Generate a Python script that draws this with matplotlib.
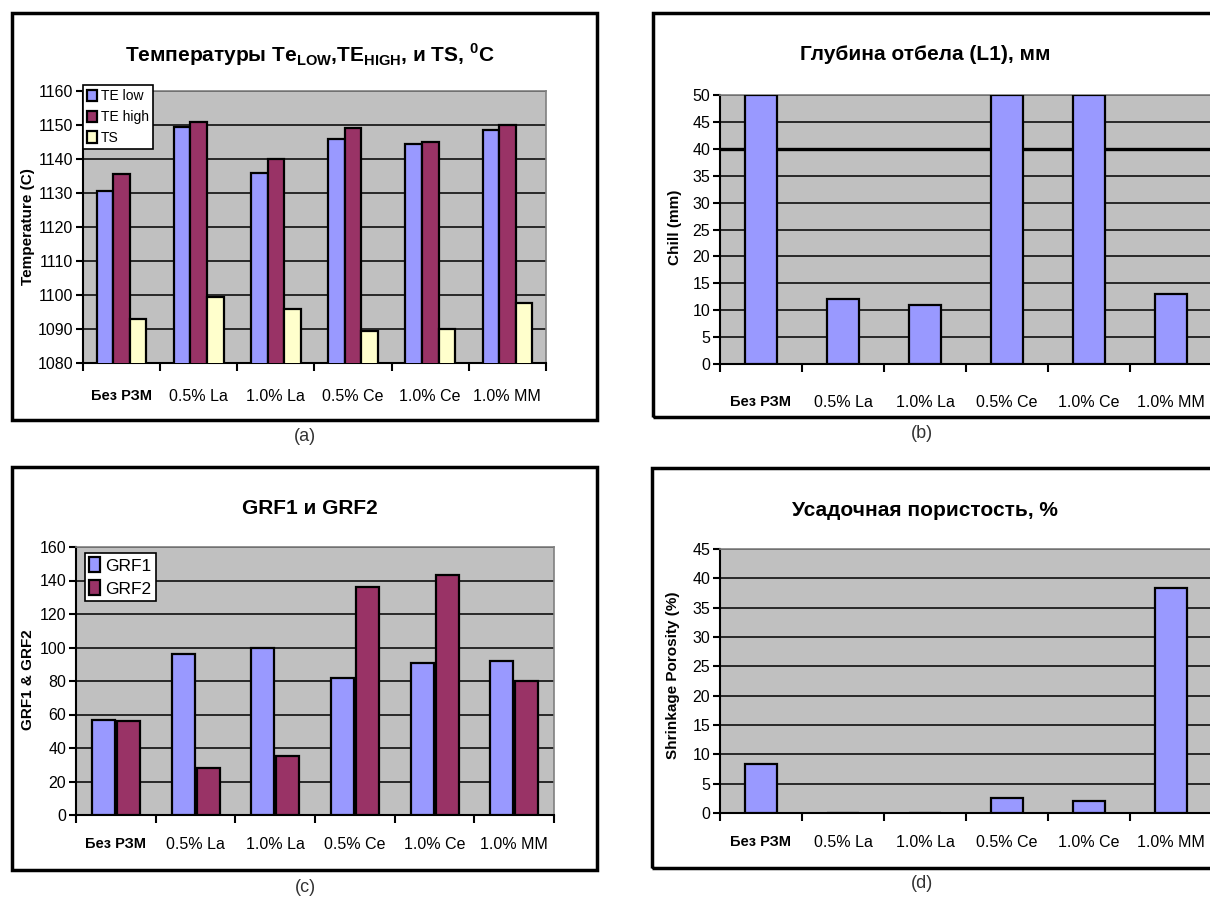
import numpy as np
import matplotlib.pyplot as plt
from matplotlib.patches import Rectangle

plt.rcParams['font.family'] = ['Liberation Sans', 'DejaVu Sans']
plt.rcParams['mathtext.fontset'] = 'custom'
plt.rcParams['mathtext.rm'] = 'Liberation Sans'
plt.rcParams['mathtext.bf'] = 'Liberation Sans:bold'

categories = ['Без РЗМ', '0.5% La', '1.0% La', '0.5% Ce', '1.0% Ce', '1.0% MM']

# (a) temperatures, C
te_low = [1130.5, 1149.5, 1136, 1146, 1144.5, 1148.5]
te_high = [1135.5, 1151, 1140, 1149, 1145, 1150]
ts = [1093, 1099.5, 1096, 1089.5, 1090, 1097.5]

# (b) chill depth, mm
chill = [50, 12, 11, 50, 50, 13]

# (c) GRF1 / GRF2
grf1 = [57, 96, 100, 82, 91, 92]
grf2 = [56, 28, 35, 136, 143, 80]

# (d) shrinkage porosity, %
porosity = [8.3, 0, 0, 2.5, 2.1, 38.3]

BLUE = '#9999FF'
MAROON = '#993366'
CREAM = '#FFFFCC'
W, H = 1210, 900

fig = plt.figure(figsize=(W / 100, H / 100), dpi=100)


def px_axes(l, t, r, b):
    return fig.add_axes([l / W, 1 - b / H, (r - l) / W, (b - t) / H])


def frame(l, t, r, b):
    fig.patches.append(Rectangle((l / W, 1 - b / H), (r - l) / W, (b - t) / H,
                                 transform=fig.transFigure, fill=False,
                                 lw=2.5, ec='black', zorder=0))


def ftext(x, y, s, **kw):
    fig.text(x / W, 1 - y / H, s, ha='center', va='center', **kw)


def style(ax, ymin, ymax, step, pad):
    x = np.arange(len(categories))
    ax.set_facecolor('#C0C0C0')
    ax.set_xlim(-0.5, len(categories) - 0.5)
    ax.set_ylim(ymin, ymax)
    ax.set_yticks(np.arange(ymin, ymax + step / 2, step))
    ax.yaxis.grid(True, color='black', lw=1.1)
    ax.set_axisbelow(True)
    ax.set_xticks(np.arange(-0.5, len(categories), 1))
    ax.set_xticklabels([])
    ax.set_xticks(x, minor=True)
    ax.set_xticklabels(categories, minor=True, fontsize=11.5)
    ax.tick_params(axis='x', which='minor', length=0, pad=pad)
    ax.tick_params(axis='x', which='major', length=6, width=1.5, direction='out')
    ax.tick_params(axis='y', length=5, width=1.5, direction='out', labelsize=11.5, pad=2)
    ax.get_xticklabels(minor=True)[0].set_fontweight('bold')
    ax.get_xticklabels(minor=True)[0].set_fontsize(10.5)
    for s in ['left', 'bottom']:
        ax.spines[s].set_color('black')
        ax.spines[s].set_linewidth(1.5)
    for s in ['top', 'right']:
        ax.spines[s].set_color('#808080')
        ax.spines[s].set_linewidth(1.2)
    return x


bar_kw = dict(edgecolor='black', linewidth=1.6, zorder=3)

# ---- (a)
frame(12, 13, 597, 420)
ax = px_axes(83, 91, 546, 363)
x = style(ax, 1080, 1160, 10, 19)
w = 0.215
ax.bar(x - w, te_low, w, color=BLUE, label='TE low', **bar_kw)
ax.bar(x, te_high, w, color=MAROON, label='TE high', **bar_kw)
ax.bar(x + w, ts, w, color=CREAM, label='TS', **bar_kw)
leg = ax.legend(loc='upper left', bbox_to_anchor=(83 / W, 1 - 85 / H),
                bbox_transform=fig.transFigure, fontsize=10, fancybox=False,
                framealpha=1, edgecolor='black', borderpad=0.3, labelspacing=0.5,
                handlelength=0.7, handleheight=0.9, handletextpad=0.3, borderaxespad=0)
leg.get_frame().set_linewidth(1.2)
ftext(310, 55, r'Температуры Te$_{\mathbf{LOW}}$,TE$_{\mathbf{HIGH}}$, и TS, $^{\mathbf{0}}$C',
      fontsize=15, fontweight='bold')
ftext(28, 227, 'Temperature (C)', rotation=90, fontsize=11, fontweight='bold')
ftext(305, 437, '(a)', fontsize=13, color='#333333')

# ---- (b)
frame(653, 13, 1225, 417)
ax = px_axes(720, 95, 1212, 364)
x = style(ax, 0, 50, 5, 22)
ax.bar(x, chill, 0.4, color=BLUE, **bar_kw)
ax.axhline(40, color='black', lw=2.4, zorder=2)
ftext(925, 55, 'Глубина отбела (L1), мм', fontsize=15, fontweight='bold')
ftext(675, 227, 'Chill (mm)', rotation=90, fontsize=11, fontweight='bold')
ftext(922, 434, '(b)', fontsize=13, color='#333333')

# ---- (c)
frame(12, 467, 597, 870)
ax = px_axes(76, 547, 554, 815)
x = style(ax, 0, 160, 20, 16)
ax.bar(x - 0.155, grf1, 0.29, color=BLUE, label='GRF1', **bar_kw)
ax.bar(x + 0.16, grf2, 0.29, color=MAROON, label='GRF2', **bar_kw)
leg = ax.legend(loc='upper left', bbox_to_anchor=(85 / W, 1 - 553 / H),
                bbox_transform=fig.transFigure, fontsize=12.5, fancybox=False,
                framealpha=1, edgecolor='black', borderpad=0.25, labelspacing=0.4,
                handlelength=0.6, handleheight=0.9, handletextpad=0.3, borderaxespad=0)
leg.get_frame().set_linewidth(1.2)
ftext(310, 508, 'GRF1 и GRF2', fontsize=15, fontweight='bold')
ftext(28, 680, 'GRF1 & GRF2', rotation=90, fontsize=11, fontweight='bold')
ftext(305, 888, '(c)', fontsize=13, color='#333333')

# ---- (d)
frame(652, 468, 1225, 868)
ax = px_axes(720, 549, 1212, 813)
x = style(ax, 0, 45, 5, 16)
ax.bar(x, porosity, 0.4, color=BLUE, **bar_kw)
ftext(925, 510, 'Усадочная пористость, %', fontsize=15, fontweight='bold')
ftext(673, 675, 'Shrinkage Porosity (%)', rotation=90, fontsize=11, fontweight='bold')
ftext(922, 884, '(d)', fontsize=13, color='#333333')

fig.savefig('out.png', dpi=100)
